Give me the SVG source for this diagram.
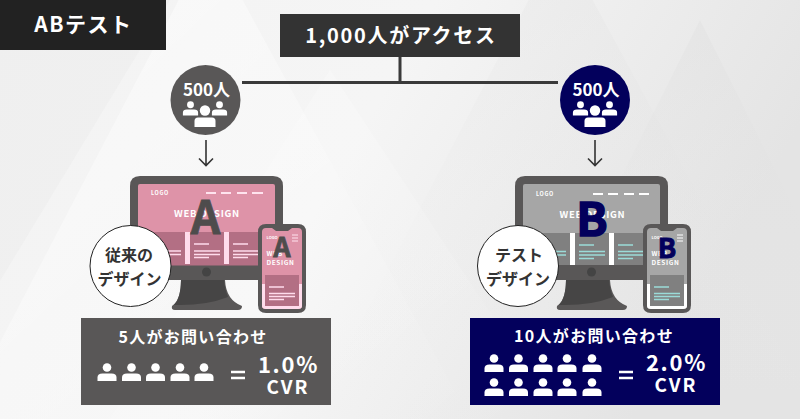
<svg xmlns="http://www.w3.org/2000/svg" xmlns:xlink="http://www.w3.org/1999/xlink" width="800" height="419" viewBox="0 0 800 419">
<style>
text{font-family:"Noto Sans CJK JP","Noto Sans",sans-serif;font-weight:700;fill:#fff;text-anchor:middle}
.wire{stroke:#3a3a3a;stroke-width:3;fill:none}
.arr{stroke:#333;stroke-width:1.6;fill:none}
.lab{fill:#333;font-size:16px}
.st{text-anchor:start}
.la{fill:#4e4c4c;stroke:#4e4c4c;stroke-width:.8}
.lb{fill:#03005c;stroke:#03005c;stroke-width:1.6}
</style>
<defs>
<linearGradient id="bg" x1="0" y1="0" x2="1" y2="0.3"><stop offset="0" stop-color="#f3f3f3"/><stop offset=".5" stop-color="#f5f5f5"/><stop offset="1" stop-color="#e4e4e4"/></linearGradient>
<linearGradient id="t1" x1="0" y1="0" x2="0" y2="1"><stop offset="0" stop-color="#d8d8d8" stop-opacity=".5"/><stop offset="1" stop-color="#eee" stop-opacity="0"/></linearGradient>
<linearGradient id="t2" x1="0" y1="0" x2="1" y2="1"><stop offset="0" stop-color="#fff" stop-opacity=".6"/><stop offset="1" stop-color="#fff" stop-opacity="0"/></linearGradient>
<g id="p"><circle cx="0" cy="-6.500" r="4.300" fill="#fff"/><path d="M-9.500 7V3.500Q-9.500-.5-4.500-.5H4.500Q9.500-.5 9.500 3.500V7Z" fill="#fff"/></g>
<g id="trio"><use xlink:href="#p" transform="translate(-14.500 -3) scale(.8)"/><use xlink:href="#p" transform="translate(14.500 -3) scale(.8)"/><circle cx="0" cy="-2.500" r="5.200" fill="#fff"/><path d="M-10.500 14V8Q-10.500 4.500-7 4.500H7Q10.500 4.500 10.500 8V14Z" fill="#fff"/></g>
<g id="monitorBase">
<path d="M130 186Q130 176 140 176H273Q283 176 283 186V270Q283 280 273 280H140Q130 280 130 270Z" fill="#595757"/>
<path d="M181 280H225Q226 300 242 306Q242 310 238 310H175Q171 310 172 306Q181 300 181 280Z" fill="#5a5858"/>
<path d="M181 280H224Q225 290 228 297Q205 306 174 305Q181 298 181 280Z" fill="#464545"/>
<circle cx="206.500" cy="272" r="4.500" fill="#444"/>
</g>
<path id="phoneBody" d="M258 232Q258 224 266 224H298Q306 224 306 232V305Q306 313 298 313H266Q258 313 258 305Z" fill="#595757"/>
</defs>

<rect width="800" height="419" fill="url(#bg)"/>
<g id="background">
<polygon points="210,-60 470,419 -40,419" fill="url(#t2)"/>
<polygon points="560,-60 820,419 310,419" fill="url(#t1)" opacity=".45"/>
<polygon points="700,20 900,419 500,419" fill="url(#t1)" opacity=".5"/>
<polygon points="330,70 560,419 110,419" fill="url(#t2)" opacity=".5"/>
<polygon points="170,0 -60,380 -60,0" fill="#e9e9e9" opacity=".35"/>
</g>

<g id="connectors">
<path class="wire" d="M242 82.500H558M400 56V82.500"/>
<path class="arr" d="M206 140V165M199 158.500L206 165.500L213 158.500"/>
<path class="arr" d="M595 140V165M588 158.500L595 165.500L602 158.500"/>
</g>

<g id="title"><rect y="0" width="166" height="50" fill="#222"/><text x="83.500" y="32" font-size="21" letter-spacing="1.500">ABテスト</text></g>
<g id="access"><rect x="280" y="14" width="240" height="43" fill="#333"/><text x="401" y="43" font-size="20" letter-spacing="1.700">1,000人がアクセス</text></g>

<g id="groupA"><circle cx="205.500" cy="100" r="35" fill="#595757"/><text x="206.500" y="96" font-size="17">500人</text><use xlink:href="#trio" transform="translate(205 113)"/></g>
<g id="groupB"><circle cx="595" cy="100" r="35" fill="#03005c"/><text x="596" y="96" font-size="17">500人</text><use xlink:href="#trio" transform="translate(595 113)"/></g>

<g id="designA">
<use xlink:href="#monitorBase"/>
<rect x="138" y="184" width="137" height="81" rx="2" fill="#de93a8"/>
<rect x="138" y="232" width="137" height="32" fill="#ffdcec"/>
<rect x="138" y="232" width="47" height="32" fill="#b36f84"/><rect x="190" y="232" width="34" height="32" fill="#b36f84"/><rect x="229" y="232" width="46" height="32" fill="#b36f84"/>
<rect x="138" y="264" width="137" height="1.500" fill="#b36f84"/>
<text x="151" y="195" font-size="5.500" letter-spacing=".6" class="st">LOGO</text>
<path d="M206 193H216M221 193H231M237 193H247M252 193H263" stroke="#ffe3ee" stroke-width="2"/>
<text x="207" y="217" font-size="9.500" letter-spacing=".7">WEB DESIGN</text>
<path d="M194 244H209M194 251H220M194 254.500H220M194 257.500H209M233 244H248M233 251H259M233 254.500H259M233 257.500H248M150 251H181M150 254.500H181" stroke="#ffdcec" stroke-width="1.500"/>
<text x="205.500" y="234" font-size="46" class="la">A</text>
<use xlink:href="#phoneBody"/>
<path d="M262 232Q262 228 266 228H272L276 231H288L292 228H298Q302 228 302 232V306Q302 309 298 309H266Q262 309 262 306Z" fill="#de93a8"/>
<path d="M262 284H302V306Q302 309 298 309H266Q262 309 262 306Z" fill="#ffdcec"/>
<rect x="265" y="275" width="34" height="31" fill="#b36f84"/>
<text x="266.500" y="239" font-size="4" class="st">LOGO</text>
<path d="M292 235H298M292 238H298M292 241H298" stroke="#ffe3ee" stroke-width="1"/>
<text x="266.500" y="256" font-size="6.500" letter-spacing=".6" class="st">WEB</text><text x="266.500" y="264.500" font-size="6.500" letter-spacing=".6" class="st">DESIGN</text>
<path d="M269 287H284M269 293.500H295M269 296.500H295M269 299.500H284" stroke="#ffdcec" stroke-width="1.500"/>
<text x="282" y="257" font-size="27" class="la">A</text>
</g>
<g id="labelA"><circle cx="130.500" cy="266" r="40.500" fill="#fff" stroke="#222" stroke-width="1"/><text x="129" y="261" class="lab">従来の</text><text x="129.500" y="285" class="lab">デザイン</text></g>

<g id="designB">
<g transform="translate(385 0)"><use xlink:href="#monitorBase"/>
<rect x="138" y="184" width="137" height="81" rx="2" fill="#a6a6a6"/>
<rect x="138" y="233" width="137" height="32" fill="#fff"/>
<rect x="138" y="233" width="47" height="32" fill="#808080"/><rect x="190" y="233" width="34" height="32" fill="#808080"/><rect x="229" y="233" width="46" height="32" fill="#808080"/>
<text x="151" y="196" font-size="5.500" letter-spacing=".6" class="st">LOGO</text>
<path d="M208 194H218M223 194H233M239 194H249M254 194H264" stroke="#fff" stroke-width="2"/>
<text x="207.500" y="218" font-size="9.500" letter-spacing=".7">WEB DESIGN</text>
<path d="M194 245H209M194 251.500H220M194 255H220M194 258.500H209M233 245H248M233 251.500H259M233 255H259M233 258.500H248M150 251.500H181M150 255H181" stroke="#9bdbd8" stroke-width="1.500"/>
<use xlink:href="#phoneBody"/>
<path d="M262 232Q262 228 266 228H272L276 231H288L292 228H298Q302 228 302 232V306Q302 309 298 309H266Q262 309 262 306Z" fill="#a6a6a6"/>
<path d="M262 284H302V306Q302 309 298 309H266Q262 309 262 306Z" fill="#fff"/>
<rect x="265" y="275" width="34" height="31" fill="#808080"/>
<text x="266.500" y="239" font-size="4" class="st">LOGO</text>
<path d="M292 235H298M292 238H298M292 241H298" stroke="#fff" stroke-width="1"/>
<text x="266.500" y="256" font-size="6.500" letter-spacing=".6" class="st">WEB</text><text x="266.500" y="264.500" font-size="6.500" letter-spacing=".6" class="st">DESIGN</text>
<path d="M269 287H284M269 293.500H295M269 296.500H295M269 299.500H284" stroke="#9bdbd8" stroke-width="1.500"/>
</g>
<text x="592" y="236" font-size="46" class="lb">B</text>
<text x="667" y="258" font-size="27" class="lb" style="stroke-width:1">B</text>
</g>
<g id="labelB"><circle cx="518" cy="266" r="40.500" fill="#fff" stroke="#222" stroke-width="1"/><text x="519" y="261" class="lab">テスト</text><text x="518" y="285" class="lab">デザイン</text></g>

<g id="resultA"><rect x="81" y="318" width="250" height="87" fill="#595757"/>
<text x="193" y="343" font-size="16" letter-spacing="1.300">5人がお問い合わせ</text>
<use xlink:href="#p" transform="translate(107 374)"/><use xlink:href="#p" transform="translate(131.500 374)"/><use xlink:href="#p" transform="translate(155.500 374)"/><use xlink:href="#p" transform="translate(180 374)"/><use xlink:href="#p" transform="translate(204 374)"/>
<path d="M231 372H245M231 378H245" stroke="#fff" stroke-width="2.400"/>
<text x="288.500" y="373" font-size="22" letter-spacing="1.700">1.0%</text>
<text x="288" y="394" font-size="19" letter-spacing="2">CVR</text></g>

<g id="resultB"><rect x="470" y="318" width="250" height="87" fill="#03005c"/>
<text x="594" y="342" font-size="16" letter-spacing="1.300">10人がお問い合わせ</text>
<use xlink:href="#p" transform="translate(494 365)"/><use xlink:href="#p" transform="translate(518.500 365)"/><use xlink:href="#p" transform="translate(543 365)"/><use xlink:href="#p" transform="translate(567 365)"/><use xlink:href="#p" transform="translate(592 365)"/>
<use xlink:href="#p" transform="translate(494 389)"/><use xlink:href="#p" transform="translate(518.500 389)"/><use xlink:href="#p" transform="translate(543 389)"/><use xlink:href="#p" transform="translate(567 389)"/><use xlink:href="#p" transform="translate(592 389)"/>
<path d="M619 372H633M619 378H633" stroke="#fff" stroke-width="2.400"/>
<text x="676.500" y="371" font-size="22" letter-spacing="1.700">2.0%</text>
<text x="676" y="392" font-size="19" letter-spacing="2">CVR</text></g>
</svg>
